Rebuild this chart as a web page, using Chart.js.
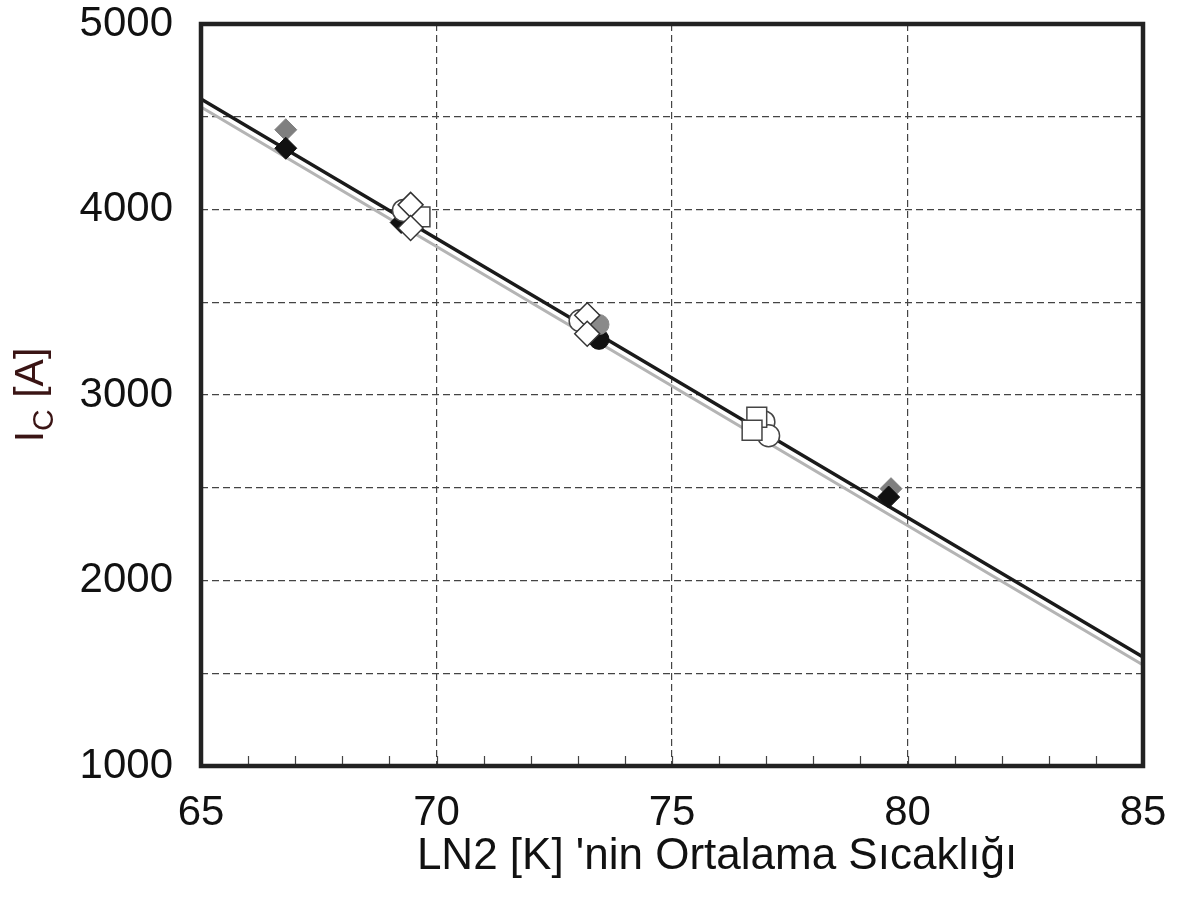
<!DOCTYPE html>
<html>
<head>
<meta charset="utf-8">
<script src="https://cdn.jsdelivr.net/npm/chart.js@4.4.0/dist/chart.umd.min.js"></script>
<style>
    html, body { margin: 0; padding: 0; background: #fff; }
    #wrap { width: 1180px; height: 899px; position: relative; }
</style>
</head>
<body>
<div id="wrap"><canvas id="icChart"></canvas></div>
<script>
const blackDiamondX = [66.8, 69.25, 79.6];
const blackDiamondY = [4330, 3930, 2450];
const blackCircleX = [73.45];
const blackCircleY = [3300];
const grayDiamondX = [66.8, 79.65];
const grayDiamondY = [4430, 2495];
const grayCircleX = [73.45];
const grayCircleY = [3380];
const openDiamondX = [69.45, 69.45, 73.2, 73.2];
const openDiamondY = [4025, 3900, 3430, 3330];
const openSquareX = [69.65, 76.8, 76.7];
const openSquareY = [3960, 2880, 2810];
const openCircleX = [69.3, 73.05, 76.95, 77.05];
const openCircleY = [3995, 3400, 2855, 2780];

// fitted lines (end points at 65 K and 85 K)
const fitX = [65, 85];
const fitBlackY = [4596, 1588];
const fitGrayY = [4553, 1545];

const xTickLabels = [65, 70, 75, 80, 85];
const yTickLabels = [1000, 2000, 3000, 4000, 5000];

const FONT = '"Liberation Sans", Arial, sans-serif';

function pts(xs, ys) {
    return xs.map((x, i) => ({ x: x, y: ys[i] }));
}

// frame, inner minor ticks and axis titles
const framePlugin = {
    id: 'frame',
    afterDatasetsDraw(chart) {
        const { ctx, chartArea } = chart;
        const xs = chart.scales.x;
        ctx.save();
        ctx.strokeStyle = '#444';
        ctx.lineWidth = 1.2;
        for (let v = 66; v < 85; v++) {
            const px = Math.round(xs.getPixelForValue(v)) + 0.5;
            ctx.beginPath();
            ctx.moveTo(px, chartArea.bottom);
            ctx.lineTo(px, chartArea.bottom - 10);
            ctx.stroke();
        }
        ctx.strokeStyle = '#222';
        ctx.lineWidth = 4.5;
        ctx.strokeRect(chartArea.left, chartArea.top,
            chartArea.right - chartArea.left, chartArea.bottom - chartArea.top);
        ctx.restore();
    },
    afterDraw(chart) {
        const { ctx, chartArea } = chart;
        ctx.save();
        // x title
        ctx.fillStyle = '#111';
        ctx.font = '44px ' + FONT;
        ctx.textAlign = 'center';
        ctx.textBaseline = 'alphabetic';
        ctx.fillText("LN2 [K] 'nin Ortalama S\u0131cakl\u0131\u011F\u0131", 717, 869);

        // y title: I with subscript C, then [A]
        const cy = (chartArea.top + chartArea.bottom) / 2;
        ctx.translate(43, cy);
        ctx.rotate(-Math.PI / 2);
        ctx.textAlign = 'left';
        ctx.fillStyle = '#3a1414';
        const big = '41px ' + FONT;
        const small = '30px ' + FONT;
        ctx.font = big;
        const wI = ctx.measureText('I').width;
        const wA = ctx.measureText(' [A]').width;
        ctx.font = small;
        const wC = ctx.measureText('C').width;
        let x0 = -(wI + wC + wA) / 2;
        ctx.font = big;
        ctx.fillText('I', x0, 0);
        ctx.font = small;
        ctx.fillText('C', x0 + wI, 10);
        ctx.font = big;
        ctx.fillText(' [A]', x0 + wI + wC, 0);
        ctx.restore();
    }
};

const ctx = document.getElementById('icChart').getContext('2d');
const icChart = new Chart(ctx, {
    type: 'scatter',
    data: {
        datasets: [{
            label: 'fit black',
            data: pts(fitX, fitBlackY),
            showLine: true,
            borderColor: '#1a1a1a',
            borderWidth: 3.5,
            pointRadius: 0,
            order: 20
        }, {
            label: 'fit gray',
            data: pts(fitX, fitGrayY),
            showLine: true,
            borderColor: '#b4b4b4',
            borderWidth: 3,
            pointRadius: 0,
            order: 21
        }, {
            label: 'gray diamond',
            data: pts(grayDiamondX, grayDiamondY),
            pointStyle: 'rectRot',
            pointRadius: 11,
            backgroundColor: '#7f7f7f',
            borderColor: '#7f7f7f',
            borderWidth: 1,
            order: 9
        }, {
            label: 'black diamond',
            data: pts(blackDiamondX, blackDiamondY),
            pointStyle: 'rectRot',
            pointRadius: 11,
            backgroundColor: '#111',
            borderColor: '#111',
            borderWidth: 1,
            order: 8
        }, {
            label: 'black circle',
            data: pts(blackCircleX, blackCircleY),
            pointStyle: 'circle',
            pointRadius: 10,
            backgroundColor: '#111',
            borderColor: '#111',
            borderWidth: 1,
            order: 7
        }, {
            label: 'gray circle',
            data: pts(grayCircleX, grayCircleY),
            pointStyle: 'circle',
            pointRadius: 10,
            backgroundColor: '#8a8a8a',
            borderColor: '#8a8a8a',
            borderWidth: 1,
            order: 6
        }, {
            label: 'open circle',
            data: pts(openCircleX, openCircleY),
            pointStyle: 'circle',
            pointRadius: 11,
            backgroundColor: '#fff',
            borderColor: '#444',
            borderWidth: 1.5,
            order: 5
        }, {
            label: 'open square',
            data: pts(openSquareX, openSquareY),
            pointStyle: 'rect',
            pointRadius: 14,
            backgroundColor: '#fff',
            borderColor: '#444',
            borderWidth: 1.5,
            order: 4
        }, {
            label: 'open diamond',
            data: pts(openDiamondX, openDiamondY),
            pointStyle: 'rectRot',
            pointRadius: 12.5,
            backgroundColor: '#fff',
            borderColor: '#333',
            borderWidth: 1.5,
            order: 3
        }]
    },
    options: {
        responsive: true,
        maintainAspectRatio: false,
        animation: false,
        layout: { padding: { top: 24, right: 37, left: 0, bottom: 0 } },
        plugins: {
            legend: { display: false },
            tooltip: { enabled: false }
        },
        scales: {
            x: {
                type: 'linear',
                min: 65,
                max: 85,
                afterFit(scale) {
                    scale.height = 133;
                    scale.paddingLeft = 0;
                    scale.paddingRight = 0;
                },
                afterBuildTicks(scale) {
                    scale.ticks = [];
                    for (let v = 65; v <= 85; v++) scale.ticks.push({ value: v });
                },
                ticks: {
                    autoSkip: false,
                    maxRotation: 0,
                    padding: 22,
                    color: '#111',
                    font: { family: FONT, size: 42 },
                    callback: v => xTickLabels.includes(v) ? String(v) : ''
                },
                grid: {
                    drawTicks: false,
                    lineWidth: 1.2,
                    color: c => (c.tick && c.tick.value % 5 === 0 && c.tick.value > 65 && c.tick.value < 85) ? '#444' : 'rgba(0,0,0,0)'
                },
                border: { display: false, dash: [7, 4] }
            },
            y: {
                type: 'linear',
                min: 1000,
                max: 5000,
                afterFit(scale) {
                    scale.width = 201;
                    scale.paddingTop = 0;
                    scale.paddingBottom = 0;
                },
                afterBuildTicks(scale) {
                    scale.ticks = [];
                    for (let v = 1000; v <= 5000; v += 500) scale.ticks.push({ value: v });
                },
                ticks: {
                    autoSkip: false,
                    padding: 28,
                    color: '#111',
                    font: { family: FONT, size: 42 },
                    callback: v => yTickLabels.includes(v) ? String(v) : ''
                },
                grid: {
                    drawTicks: false,
                    lineWidth: 1.2,
                    color: c => (c.tick && c.tick.value > 1000 && c.tick.value < 5000) ? '#444' : 'rgba(0,0,0,0)'
                },
                border: { display: false, dash: [7, 4] }
            }
        }
    },
    plugins: [framePlugin]
});
</script>
</body>
</html>
